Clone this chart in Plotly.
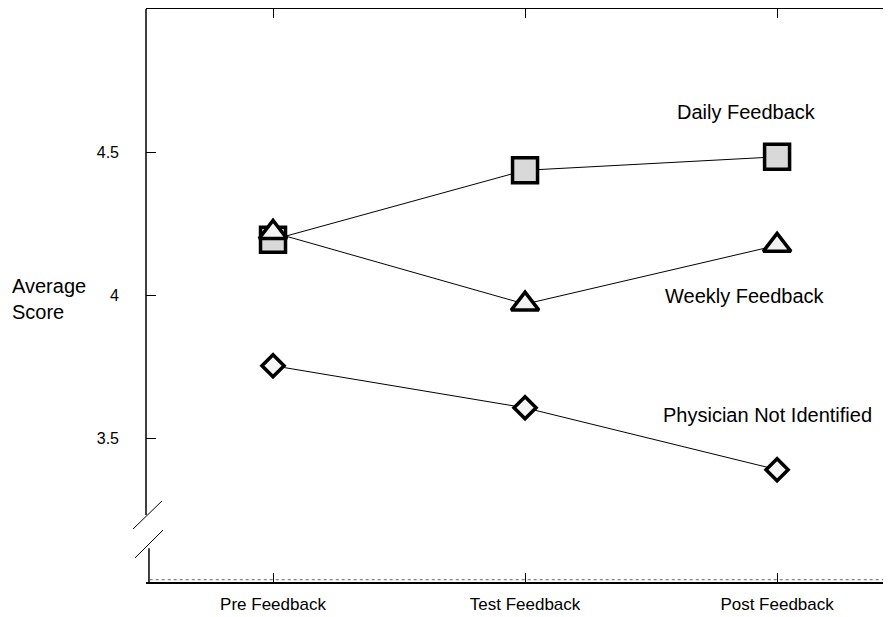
import plotly.graph_objects as go

categories = ["Pre Feedback", "Test Feedback", "Post Feedback"]
daily = [4.195, 4.437, 4.484]
weekly = [4.22, 3.97, 4.175]
physician = [3.755, 3.608, 3.392]
y_ticks = [3.5, 4, 4.5]
y_tick_labels = ["3.5", "4", "4.5"]

x = list(range(len(categories)))
FONT = "Arial, Liberation Sans, sans-serif"

fig = go.Figure()
fig.add_trace(go.Scatter(
    x=x, y=daily, mode="lines+markers", name="Daily Feedback",
    line=dict(color="black", width=1),
    marker=dict(symbol="square", size=25, color="#d9d9d9",
                line=dict(color="black", width=3.5)),
))
fig.add_trace(go.Scatter(
    x=x, y=weekly, mode="lines+markers", name="Weekly Feedback",
    line=dict(color="black", width=1),
    marker=dict(symbol="triangle-up", size=24, color="#f2f2f2",
                line=dict(color="black", width=3.5)),
))
fig.add_trace(go.Scatter(
    x=x, y=physician, mode="lines+markers", name="Physician Not Identified",
    line=dict(color="black", width=1),
    marker=dict(symbol="diamond", size=17, color="#f5f5f5",
                line=dict(color="black", width=3.5)),
))

label_font = dict(family=FONT, size=20, color="black")
fig.add_annotation(x=1.88, y=4.64, text="Daily Feedback", showarrow=False, font=label_font)
fig.add_annotation(x=1.873, y=3.998, text="Weekly Feedback", showarrow=False, font=label_font)
fig.add_annotation(x=1.962, y=3.583, text="Physician Not Identified", showarrow=False, font=label_font)

fig.add_annotation(xref="paper", yref="paper", x=-0.183, y=0.494, xanchor="left", yanchor="middle",
                   text="Average<br>Score", showarrow=False, align="left",
                   font=dict(family=FONT, size=20, color="black"))

# axis break and left axis segments
blk = dict(color="black", width=1.5)
fig.add_shape(type="line", xref="paper", yref="y", x0=0, x1=0, y0=5, y1=3.234, line=blk)
fig.add_shape(type="line", xref="paper", yref="y", x0=0.004, x1=0.004, y0=3.118, y1=3.0, line=blk)
fig.add_shape(type="line", xref="paper", yref="y", x0=-0.0174, x1=0.0215, y0=3.185, y1=3.283,
              line=dict(color="black", width=1))
fig.add_shape(type="line", xref="paper", yref="y", x0=-0.0148, x1=0.0228, y0=3.084, y1=3.181,
              line=dict(color="black", width=1))
fig.add_shape(type="line", xref="paper", yref="y", x0=0.005, x1=1, y0=3.008, y1=3.008,
              line=dict(color="#666", width=1, dash="dot"))

# page body has an 8px margin, so the figure is sized and offset for it
fig.update_layout(
    width=883, height=609,
    margin=dict(l=138, r=0, t=1, b=35, autoexpand=False),
    paper_bgcolor="white", plot_bgcolor="white",
    showlegend=False,
    font=dict(family=FONT, color="black"),
    xaxis=dict(
        range=[-0.504, 2.452], tickmode="array", tickvals=x, ticktext=categories,
        showgrid=False, zeroline=False, showline=True, linecolor="black", linewidth=1.5,
        mirror="ticks", ticks="inside", ticklen=9, tickwidth=1, tickcolor="black",
        ticklabelstandoff=6, automargin=False,
        tickfont=dict(family=FONT, size=17, color="black"),
    ),
    yaxis=dict(
        range=[3, 5], tickmode="array", tickvals=y_ticks, ticktext=y_tick_labels,
        showgrid=False, zeroline=False, showline=False, automargin=False,
        ticks="inside", ticklen=10, tickwidth=1, tickcolor="black",
        ticklabelstandoff=26,
        tickfont=dict(family=FONT, size=16, color="black"),
    ),
)

fig.write_html("out.html")
